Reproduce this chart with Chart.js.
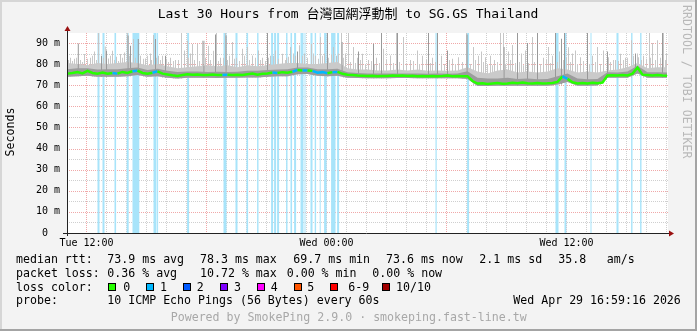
<!DOCTYPE html>
<html><head><meta charset="utf-8">
<script src="https://cdn.jsdelivr.net/npm/chart.js@4.4.1/dist/chart.umd.min.js"></script>
<style>html,body{margin:0;padding:0;background:#f3f3f3;}canvas{display:block;}</style>
</head><body>
<canvas id="c" width="697" height="331"></canvas>
<script>
// ---- time base (hours since Tue 00:00) ----
const startHour = 11.05;
const endHour = 41.05;
const axisMin = 11.025;
const axisMax = 41.025;
const medianStep = 0.25;
const smokeStep = 0.5;

// ---- median RTT (ms), one value every 15 min ----
const medianRtt = [
 75.5,75.8,76.3,75.6,76.8,75.8,75.5,76.0,75.4,75.8,
 75.5,76.3,75.8,76.6,76.9,75.8,75.4,75.9,76.6,75.5,
 75.1,74.7,74.4,74.8,75.2,75.0,75.1,74.8,74.9,75.1,
 74.8,74.8,75.0,74.8,75.0,74.9,75.2,75.5,75.0,75.4,
 75.6,76.0,75.8,76.2,75.9,76.4,77.2,77.0,77.0,76.8,
 75.9,76.2,75.7,76.2,76.3,75.4,75.0,74.8,74.6,74.5,
 74.4,74.5,74.3,74.4,74.4,74.6,74.5,74.6,74.4,74.5,
 74.3,74.4,74.3,74.4,74.3,74.4,74.6,74.3,74.4,74.3,
 74.3,72.0,70.8,70.9,70.6,70.8,71.0,70.7,70.8,71.2,
 70.9,71.3,70.9,70.8,71.0,70.8,70.9,71.1,71.6,74.2,
 73.0,71.4,70.8,71.0,70.8,71.2,70.9,71.3,74.6,74.7,
 74.6,74.8,74.6,75.5,78.4,75.0,74.8,74.6,74.8,74.6,
 74.5
];

// ---- smoke envelope (ms), one value every 30 min ----
const smokeMin = [
 74.0,74.2,74.5,74.0,74.0,74.0,74.3,74.8,74.0,74.3,
 73.6,73.2,73.6,73.6,73.5,73.4,73.5,73.5,73.7,73.7,
 74.0,74.2,74.3,75.2,75.3,74.5,74.3,74.5,
 73.6,73.4,73.3,73.3,73.3,73.4,73.4,73.3,73.3,73.3,73.3,73.3,73.0,
 69.6,69.6,69.8,69.7,69.8,69.8,69.8,69.8,70.3,71.5,69.8,69.8,69.9,
 73.5,73.6,73.5,75.5,73.6,73.6,73.5
];
const smokeMid = [
 77.6,78.0,78.0,77.4,77.6,77.6,78.0,78.4,77.2,77.8,
 76.8,76.3,76.5,76.5,76.3,76.4,76.3,76.4,76.8,76.8,
 77.2,77.5,77.6,78.4,78.4,77.6,77.6,77.8,
 76.2,75.8,75.5,75.6,75.5,75.6,75.5,75.6,75.4,75.5,75.4,75.6,76.6,
 73.6,73.2,73.2,73.5,73.0,73.2,72.8,73.0,74.2,75.6,73.2,72.8,73.0,
 76.2,76.0,76.5,79.2,76.2,76.2,76.0
];
const smokeTop = [
 80.5,80.0,79.5,80.5,80.0,80.5,81.0,80.5,79.5,80.0,
 79.0,78.0,78.5,79.0,79.5,79.0,79.5,78.5,79.5,79.0,
 79.5,80.0,80.5,80.5,80.0,80.0,80.5,81.0,
 78.0,77.5,77.5,77.0,77.0,77.5,77.0,77.5,76.8,77.0,76.8,77.0,78.5,
 76.5,75.5,77.0,77.5,76.0,76.5,76.0,76.5,78.0,77.5,76.0,76.5,76.0,
 77.0,77.5,78.5,80.5,78.0,78.5,78.5
];

// ---- single high pings (light smoke) ----
const lightSpikeTimes = [
 11.20,11.40,11.90,12.20,12.40,12.60,12.94,13.10,13.30,13.50,
 13.70,13.90,14.05,14.35,14.70,14.95,15.20,15.35,15.60,15.80,
 16.20,16.45,16.75,16.90,17.05,17.20,17.30,17.55,17.80,18.10,
 18.35,18.50,18.70,18.95,19.15,19.30,19.50,19.80,20.05,20.30,
 20.60,20.80,21.20,21.45,21.80,22.00,22.20,22.45,22.65,22.90,
 23.25,23.45,23.70,23.90,24.35,24.50,24.75,24.95,25.10,25.35,
 25.55,25.80,26.10,26.50,26.85,27.20,27.50,27.85,28.20,28.55,
 28.80,29.30,29.75,30.30,30.60,31.00,31.35,31.60,31.75,31.95,
 32.20,32.40,32.70,32.85,33.10,33.30,33.75,33.95,34.30,34.55,
 34.85,35.10,35.30,35.65,36.10,36.30,36.45,36.70,37.05,37.30,
 37.55,37.85,38.10,38.45,38.70,38.95,39.25,39.60,39.85,40.15,
 40.30,40.55,40.85,41.00
];
const lightSpikeTops = [
 83,82.5,84.8,83,86,94.7,88.4,82.7,86.3,83.5,
 84.8,85.5,94.7,91.9,84,82.7,85,93.8,84,84,
 83,82,94.7,86.5,91.1,85,89.5,89.5,91.1,88.7,
 86.3,94.7,83,94.7,84,90.5,83,87.3,88.1,84.1,
 86.5,83,84,86.5,84.9,83,88.1,84,88.9,85,
 89.7,84,92.9,85,88.1,84,94.7,85,94.7,88.1,
 83,84.9,82,83,87.3,84.1,94.7,92.9,82,86.5,
 84,83,84,82.5,83.3,94.7,88.1,84,86,83.3,
 84,82,94.7,94.7,86,89,85,86.5,92.9,84.9,
 83,88.1,84,86,88,85,86.5,83.3,94.7,84,
 88.1,86.5,83.3,82,84.9,83,91.3,83.3,84,94.7,
 90,91.3,94.7,85
];
// ---- low "grass" of single high pings ----
const grassTimes = [
 11.10,11.30,11.50,11.70,11.80,12.05,12.30,12.50,12.85,13.20,
 13.40,13.60,13.80,14.15,14.45,14.85,15.05,15.25,15.50,15.70,
 16.00,16.10,16.35,16.60,17.10,17.40,17.65,17.95,18.20,18.60,
 18.85,19.05,19.40,19.65,19.90,20.15,20.45,20.70,20.95,21.10,
 21.35,21.60,21.95,22.10,22.35,22.55,22.80,23.05,23.35,23.60,
 23.80,24.10,24.25,24.60,24.85,
 25.20,25.45,25.70,25.95,26.25,26.40,26.65,27.00,27.35,27.65,
 28.00,28.35,28.65,29.00,29.20,29.45,29.90,30.15,30.45,30.80,
 31.20,31.45,31.85,32.05,32.30,32.55,32.95,33.20,33.45,33.65,
 33.85,34.10,34.40,34.70,35.00,35.20,35.55,35.85,36.00,36.20,
 36.55,36.85,37.15,37.45,37.70,
 38.20,38.35,38.60,38.85,39.05,39.35,39.55,39.75,40.00,40.20,
 40.45,40.70,40.95
];
const grassTops = [
 82,81.5,83,82,81,82.5,84,82,83,84,
 82,81.5,83,84,83,82.5,84,82,83,82,
 82.5,81,81.5,82,83,82,81.5,83,82,81.5,
 83,82,82.5,81.5,84,82,83,82,81.5,83,
 84,82.5,82,83.5,85,83,84,83,85,82.5,
 84,83,84.5,85,83,
 81,80.5,82,80,81.5,80,80.5,82,80.5,81,
 80,81.5,80,82,80.5,81,80,82,80,81,
 80,82,81,80,79.5,81,80,82,80.5,81,
 79.5,80.5,81,80,82,80.5,81,82,83,81,
 80,81.5,80,81,80,
 81,82,81.5,82,83,84,85,82,82.5,83,
 82,83,82
];
// ---- several high pings (darker smoke) ----
const darkSpikeTimes = [
 11.59,12.75,13.00,14.08,14.20,14.59,15.45,15.95,17.87,18.45,
 18.98,21.05,22.55,24.05,24.78,25.60,26.35,26.75,27.55,29.10,
 29.55,30.05,31.03,32.88,33.55,34.05,34.55,35.45,35.75,35.90,
 37.05,38.05,39.45,40.80
];
const darkSpikeTops = [
 89.8,84,86.5,93.5,88.7,91.9,91.9,84,91.1,94,
 93.6,94.7,86,94.7,90.5,86,89.7,94.7,94.7,94.7,
 94.7,86.5,94,88.1,94.7,90,94.7,94.7,92,94.7,
 94.7,86,85,94.7
];

// ---- packet loss periods (hours) ----
const lossStart = [
 12.55,12.80,13.40,14.01,14.30,15.35,15.53,17.03,18.85,19.45,
 20.00,20.53,21.23,21.38,21.53,21.98,22.20,22.38,22.70,22.90,
 23.20,23.41,23.66,23.88,24.23,24.53,29.45,31.03,35.45,35.90,
 37.20,38.50,39.23,39.68
];
const lossEnd = [
 12.65,12.90,13.48,14.11,14.64,15.50,15.58,17.13,19.00,19.55,
 20.08,20.60,21.33,21.48,21.63,22.05,22.28,22.48,22.85,22.95,
 23.30,23.48,23.71,24.01,24.45,24.63,29.51,31.13,35.60,36.00,
 37.25,38.60,39.30,39.75
];

// ---- axes ----
const yMax = 94.74;
const yTickValues = [0,10,20,30,40,50,60,70,80,90];
const yTickLabels = ['0  ','10 m','20 m','30 m','40 m','50 m','60 m','70 m','80 m','90 m'];
const xTickHours = [12,24,36];
const xTickLabels = ['Tue 12:00','Wed 00:00','Wed 12:00'];

// ---- legend ----
const lossLabels = ['0','1','2','3','4','5','6-9','10/10'];
const lossColors = ['#26ff00','#00b8ff','#0059ff','#7e00ff','#ff00ff','#ff5500','#ff0000','#a10000'];
const titleText = 'Last 30 Hours from 台灣固網浮動制 to SG.GS Thailand';

const MONO = "'DejaVu Sans Mono', 'Noto Sans CJK TC', monospace";

const medianPts = medianRtt.map((v, i) => ({x: startHour + i * medianStep, y: v}));
const smokePts = arr => arr.map((v, i) => ({x: startHour + i * smokeStep, y: v}));
const baseAt = t => smokeMin[Math.min(smokeMin.length - 1, Math.max(0, Math.round((t - startHour) / smokeStep)))];
const spikes = (ts, tops) => ts.map((t, i) => ({x: t, y: [baseAt(t), tops[i]]}));
const lossPts = [{x: axisMin, y: 0}];
lossStart.forEach((s, i) => { lossPts.push({x: s, y: 1}); lossPts.push({x: lossEnd[i], y: 0}); });
lossPts.push({x: axisMax, y: 0});
const isLoss = t => lossStart.some((s, i) => t >= s && t <= lossEnd[i]);

const frame = {
  id: 'frame',
  beforeDraw(chart) {
    const {ctx, chartArea: a} = chart;
    ctx.save();
    ctx.fillStyle = '#f3f3f3';
    ctx.fillRect(0, 0, chart.width, chart.height);
    ctx.fillStyle = '#d6d6d6';
    ctx.fillRect(0, 0, chart.width, 2);
    ctx.fillRect(0, 0, 2, chart.height);
    ctx.fillStyle = '#a4a4a4';
    ctx.fillRect(0, chart.height - 2, chart.width, 2);
    ctx.fillRect(chart.width - 2, 0, 2, chart.height);
    ctx.fillStyle = '#ffffff';
    ctx.fillRect(a.left, a.top, a.right - a.left + 1, a.bottom - a.top);
    ctx.restore();
  },
  beforeDatasetsDraw(chart) {
    const {ctx, chartArea: a, scales: {x, y}} = chart;
    ctx.save();
    ctx.lineWidth = 1;
    ctx.setLineDash([1, 1]);
    const hline = (v, c) => { const py = Math.round(y.getPixelForValue(v)) + 0.5; ctx.strokeStyle = c; ctx.beginPath(); ctx.moveTo(a.left, py); ctx.lineTo(a.right + 1, py); ctx.stroke(); };
    const vline = (h, c) => { const px = Math.floor(x.getPixelForValue(h)) + 0.5; ctx.strokeStyle = c; ctx.beginPath(); ctx.moveTo(px, a.top); ctx.lineTo(px, a.bottom); ctx.stroke(); };
    for (let v = 5; v < yMax; v += 10) hline(v, '#cfcfcf');
    for (let h = Math.ceil(startHour); h <= endHour; h++) if (h % 6 !== 0) vline(h, '#cfcfcf');
    for (let v = 10; v < yMax; v += 10) hline(v, '#f0a8a8');
    for (let h = Math.ceil(startHour); h <= endHour; h++) if (h % 6 === 0) vline(h, '#f0a8a8');
    ctx.restore();
  },
  afterDatasetsDraw(chart) {
    const {ctx, chartArea: a} = chart;
    ctx.save();
    ctx.strokeStyle = '#222';
    ctx.lineWidth = 1;
    ctx.beginPath();
    ctx.moveTo(a.left - 4, a.bottom + 0.5); ctx.lineTo(a.right + 3, a.bottom + 0.5);
    ctx.moveTo(a.left + 0.5, a.bottom + 3); ctx.lineTo(a.left + 0.5, a.top - 4);
    ctx.stroke();
    ctx.fillStyle = '#9a1010';
    ctx.beginPath();
    ctx.moveTo(a.right + 2, a.bottom - 2.5); ctx.lineTo(a.right + 7, a.bottom + 0.5); ctx.lineTo(a.right + 2, a.bottom + 3.5); ctx.closePath();
    ctx.fill();
    ctx.beginPath();
    ctx.moveTo(a.left - 2.5, a.top - 2); ctx.lineTo(a.left + 0.5, a.top - 7); ctx.lineTo(a.left + 3.5, a.top - 2); ctx.closePath();
    ctx.fill();
    ctx.restore();
  },
  afterDraw(chart) {
    const ctx = chart.ctx;
    ctx.save();
    ctx.fillStyle = '#000';
    ctx.textBaseline = 'middle';
    ctx.textAlign = 'center';
    ctx.font = `13px ${MONO}`;
    ctx.fillText(titleText, 348, 15);
    ctx.save();
    ctx.translate(11, 132); ctx.rotate(-Math.PI / 2);
    ctx.font = `11.6px ${MONO}`;
    ctx.fillText('Seconds', 0, 0);
    ctx.restore();
    ctx.save();
    ctx.translate(686, 5); ctx.rotate(Math.PI / 2);
    ctx.textAlign = 'left'; ctx.fillStyle = '#b8b8b8';
    ctx.font = `11.6px ${MONO}`;
    ctx.fillText('RRDTOOL / TOBI OETIKER', 0, 0);
    ctx.restore();
    ctx.textAlign = 'left';
    ctx.font = `11.6px ${MONO}`;
    const put = (items, yy) => items.forEach(([xx, s]) => ctx.fillText(s, xx, yy));
    put([[16,'median rtt:'],[107.3,'73.9 ms avg'],[200,'78.3 ms max'],[293.3,'69.7 ms min'],[386,'73.6 ms now'],[479.3,'2.1 ms sd'],[558.3,'35.8'],[606.7,'am/s']], 259.5);
    put([[16,'packet loss:'],[107.3,'0.36 % avg'],[200,'10.72 % max'],[286.7,'0.00 % min'],[372.3,'0.00 % now']], 273.5);
    put([[16,'loss color:']], 287.5);
    const boxX = [108, 145.5, 182.5, 219.5, 256.5, 293.5, 330, 381.5];
    const labX = [123.3, 160, 196.7, 234, 270.7, 307.3, 348.3, 396];
    lossLabels.forEach((l, i) => {
      ctx.fillStyle = lossColors[i];
      ctx.fillRect(Math.round(boxX[i]), 283, 8, 8);
      ctx.strokeStyle = '#000'; ctx.lineWidth = 1;
      ctx.strokeRect(Math.round(boxX[i]) + 0.5, 283.5, 7, 7);
      ctx.fillStyle = '#000';
      ctx.fillText(l, labX[i], 287.5);
    });
    put([[16,'probe:'],[107.3,'10 ICMP Echo Pings (56 Bytes) every 60s'],[513.3,'Wed Apr 29 16:59:16 2026']], 301.2);
    ctx.fillStyle = '#a8a8a8';
    ctx.textAlign = 'center';
    ctx.fillText('Powered by SmokePing 2.9.0 · smokeping.fast-line.tw', 348.7, 318);
    ctx.restore();
  }
};

Chart.defaults.font.family = MONO;
new Chart(document.getElementById('c'), {
  type: 'line',
  data: {
    datasets: [
      { label: 'median', data: medianPts, order: 0, borderWidth: 2.5, pointRadius: 0, tension: 0, fill: false,
        borderColor: lossColors[0],
        segment: { borderColor: c => isLoss((c.p0.parsed.x + c.p1.parsed.x) / 2) ? lossColors[1] : lossColors[0] } },
      { label: 'smokeMid', data: smokePts(smokeMid), order: 1, borderWidth: 0, borderColor: 'transparent', pointRadius: 0, tension: 0, fill: 6, backgroundColor: '#9c9c9c' },
      { type: 'bar', label: 'darkSpikes', data: spikes(darkSpikeTimes, darkSpikeTops), order: 2, grouped: false, barThickness: 1, backgroundColor: '#999999', borderWidth: 0, inflateAmount: 0 },
      { label: 'smokeTop', data: smokePts(smokeTop), order: 3, borderWidth: 0, borderColor: 'transparent', pointRadius: 0, tension: 0, fill: 6, backgroundColor: '#cacaca' },
      { type: 'bar', label: 'lightSpikes', data: spikes(lightSpikeTimes, lightSpikeTops), order: 4, grouped: false, barThickness: 1, backgroundColor: '#c6c6c6', borderWidth: 0, inflateAmount: 0 },
      { type: 'bar', label: 'grass', data: spikes(grassTimes, grassTops), order: 4, grouped: false, barThickness: 1, backgroundColor: '#cacaca', borderWidth: 0, inflateAmount: 0 },
      { label: 'smokeMin', data: smokePts(smokeMin), order: 5, borderWidth: 0, borderColor: 'transparent', pointRadius: 0, tension: 0, fill: false },
      { label: 'loss', data: lossPts, yAxisID: 'yLoss', order: 6, stepped: true, borderWidth: 0, borderColor: 'transparent', pointRadius: 0, fill: 'origin', backgroundColor: '#a8e4fa' }
    ]
  },
  options: {
    responsive: false,
    animation: false,
    devicePixelRatio: 1,
    layout: { padding: { top: 33, right: 30, bottom: 0, left: 0 } },
    plugins: { legend: { display: false }, tooltip: { enabled: false }, title: { display: false } },
    scales: {
      x: {
        type: 'linear', min: axisMin, max: axisMax, offset: false,
        afterFit: s => { s.height = 98; },
        afterBuildTicks: s => { s.ticks = xTickHours.map(v => ({value: v})); },
        ticks: { autoSkip: false, maxRotation: 0, padding: 4, color: '#000', font: { size: 10 },
          callback: v => xTickLabels[xTickHours.indexOf(v)] },
        grid: { display: false, drawTicks: false }, border: { display: false }
      },
      y: {
        type: 'linear', min: 0, max: yMax,
        afterFit: s => { s.width = 67; },
        afterBuildTicks: s => { s.ticks = yTickValues.map(v => ({value: v})); },
        ticks: { autoSkip: false, padding: 7, color: '#000', font: { size: 10 },
          callback: v => yTickLabels[yTickValues.indexOf(v)] },
        grid: { display: false, drawTicks: false }, border: { display: false }
      },
      yLoss: { type: 'linear', min: 0, max: 1, display: false }
    }
  },
  plugins: [frame]
});
</script>
</body></html>
